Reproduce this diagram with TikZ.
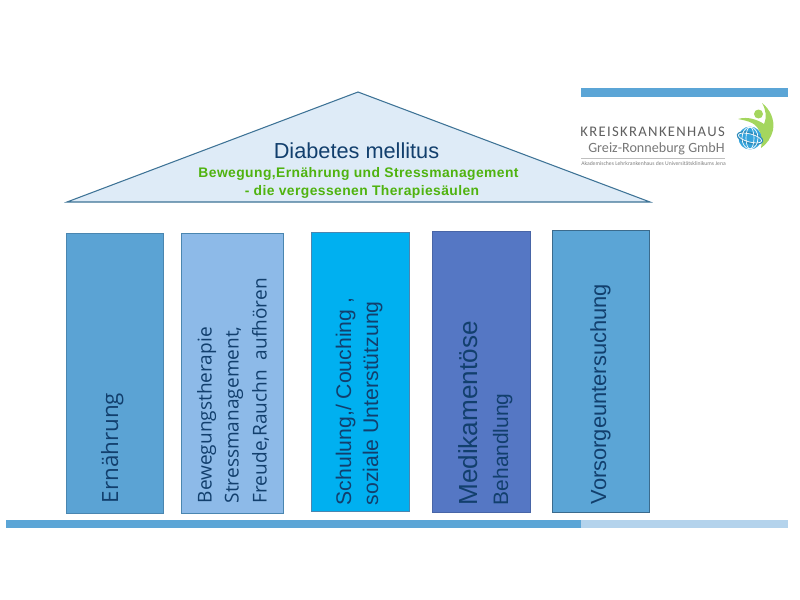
\documentclass[tikz,border=0pt]{standalone}
\usepackage{fontspec}
\setmainfont{Liberation Sans}
\newfontfamily\opensans{Open Sans}
\newfontfamily\logofont{Carlito}
\newfontfamily\logowide[LetterSpace=9]{Carlito}
\newfontfamily\wideb[LetterSpace=3,Ligatures=NoCommon]{Liberation Sans}
\definecolor{barblue}{HTML}{5BA5D6}
\definecolor{barlight}{HTML}{B4D3EC}
\definecolor{roofline}{HTML}{3E7396}
\definecolor{rooffill}{HTML}{DEEBF7}
\definecolor{navy}{HTML}{123F6D}
\definecolor{greenT}{HTML}{4FB30F}
\definecolor{pA}{HTML}{5BA3D4}
\definecolor{pB}{HTML}{8DBAE8}
\definecolor{pC}{HTML}{00B0F0}
\definecolor{pD}{HTML}{5577C4}
\definecolor{pE}{HTML}{5BA5D6}
\definecolor{pline}{HTML}{4A86B0}
\definecolor{ptext}{HTML}{123F6D}
\definecolor{logogray}{HTML}{5F5F5F}
\definecolor{logogreen}{HTML}{A4D65E}
\definecolor{logoblue}{HTML}{35A4DC}
\tikzset{
  x=0.75pt,y=-0.75pt,
  pillar/.style={draw=pline,line width=0.7pt},
  vtext/.style={rotate=90,anchor=base west,inner sep=0pt,text=ptext},
  ctext/.style={anchor=base,inner sep=0pt},
}
\newcommand{\fs}[1]{\fontsize{#1}{#1}\selectfont}
\begin{document}
\begin{tikzpicture}
\useasboundingbox (0,0) rectangle (800,600);
% bars
\fill[barblue] (581,88) rectangle (788,97);
\fill[barblue] (6,520) rectangle (581,528);
\fill[barlight] (581,520) rectangle (788,528);
% roof
\draw[fill=rooffill,draw=roofline,line width=0.8pt] (67,202) -- (358,92) -- (650,202) -- cycle;
\node[ctext,text=navy] (title) at (356.5,158) {\fs{16.3}Diabetes mellitus};
\node[ctext,text=greenT] (sub1) at (358.5,177) {\fs{10.4}\wideb\bfseries Bewegung,Ernährung und Stressmanagement};
\node[ctext,text=greenT] (sub2) at (362,195) {\fs{10.4}\wideb\bfseries - die vergessenen Therapiesäulen};
% pillars
\draw[pillar,fill=pA] (66,233) rectangle (163,513);
\draw[pillar,fill=pB] (181,233) rectangle (283,513);
\draw[pillar,fill=pC] (311,232) rectangle (409,511);
\draw[pillar,fill=pD,draw=pD!85!black] (432,231) rectangle (530,512);
\draw[pillar,fill=pE,draw=pline!80!black] (552,230) rectangle (649,512);
% pillar texts
\node[vtext] (t1) at (118,503.5) {\opensans\fs{16.8}Ernährung};
\node[vtext] (t2a) at (211.5,503.5) {\opensans\fs{14.3}Bewegungstherapie};
\node[vtext] (t2b) at (238.5,503.5) {\opensans\fs{14.3}Stressmanagement,};
\node[vtext] (t2c) at (266.5,503.5) {\opensans\fs{14.3}Freude,Rauchn~ aufhören};
\node[vtext] (t3a) at (351,505.5) {\fs{15.9}Schulung,/ Couching ,};
\node[vtext] (t3b) at (378,505.5) {\fs{15.9}soziale Unterstützung};
\node[vtext] (t4a) at (477,506) {\fs{19.6}Medikamentöse};
\node[vtext] (t4b) at (508,505.5) {\fs{15.7}Behandlung};
\node[vtext] (t5) at (606,504.5) {\fs{16.4}Vorsorgeuntersuchung};
% logo
\node[anchor=base east,inner sep=0pt,text=logogray] (l1) at (725,136) {\logowide\fs{11}KREISKRANKENHAUS};
\node[anchor=base east,inner sep=0pt,text=logogray!85] (l2) at (725,152) {\logofont\fs{10.6}Greiz-Ronneburg GmbH};
\draw[gray!50,line width=0.4pt] (581,158) -- (725,158);
\node[anchor=base west,inner sep=0pt,text=logogray!80] (l3) at (581,165) {\logofont\fs{4.25}Akademisches Lehrkrankenhaus des Universitätsklinikums Jena};
\fill[logogreen] (758.5,114) circle (4.5);
\fill[logogreen] (738,119) .. controls (748,116) and (758,120) .. (764,124) .. controls (767,117) and (766,110) .. (762,103) .. controls (770,109) and (775,120) .. (773,130) .. controls (771,138) and (767,144) .. (761,148) .. controls (763,138) and (760,127) .. (752,123) .. controls (748,121) and (743,120) .. (738,119) -- cycle;
\fill[logoblue] (750,138) circle (11.5);
\draw[logoblue!85!black,line width=1.6pt,rotate around={-15:(750,138)}] (750,138) ellipse (12.5 and 5);
\draw[white,line width=0.5pt] (750,138) ellipse (4 and 11);
\draw[white,line width=0.5pt] (750,138) ellipse (8 and 11);
\draw[white,line width=0.5pt,rotate around={-15:(750,138)}] (750,138) ellipse (12 and 4);
\end{tikzpicture}
\end{document}
